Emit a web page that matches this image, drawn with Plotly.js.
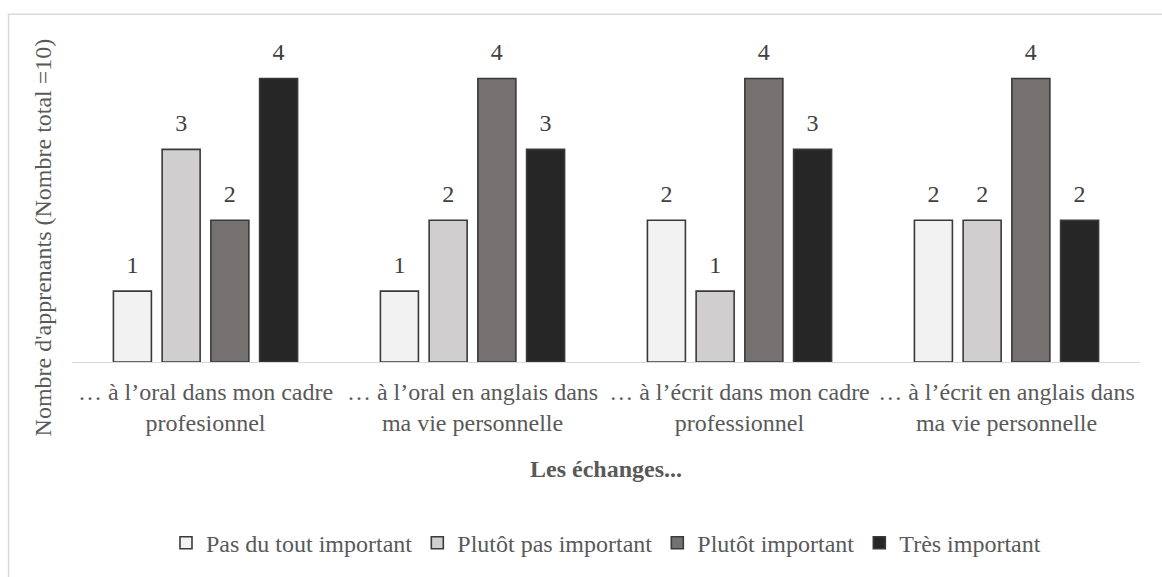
<!DOCTYPE html>
<html>
<head>
<meta charset="utf-8">
<script src="https://cdn.plot.ly/plotly-3.0.1.min.js"></script>
<style>
html,body{margin:0;padding:0;background:#fff;}
#chart{width:1162px;height:577px;}
</style>
</head>
<body>
<div id="chart"></div>
<script>
const categories = [
  "… à l’oral dans mon cadre<br>profesionnel",
  "… à l’oral en anglais dans<br>ma vie personnelle",
  "… à l’écrit dans mon cadre<br>professionnel",
  "… à l’écrit en anglais dans<br>ma vie personnelle"
];
const seriesNames = ["Pas du tout important", "Plutôt pas important", "Plutôt important", "Très important"];
const pasDuTout = [1, 1, 2, 2];
const plutotPas = [3, 2, 1, 2];
const plutotImportant = [2, 4, 4, 4];
const tresImportant = [4, 3, 3, 2];
const seriesValues = [pasDuTout, plutotPas, plutotImportant, tresImportant];
const colors = ["#F2F2F2", "#D0CECE", "#767171", "#262626"];

const FONT = "Liberation Serif, Times New Roman, serif";
const GAP = 0.27;

const barTraces = seriesValues.map((vals, i) => ({
  type: "bar",
  name: seriesNames[i],
  x: categories,
  y: vals,
  marker: {color: colors[i], line: {color: "#3A3A3A", width: 1.6}},
  hoverinfo: "none"
}));

const labelTraces = seriesValues.map((vals, i) => ({
  type: "scatter",
  mode: "markers+text",
  x: categories,
  y: vals,
  text: vals.map(String),
  textposition: "top center",
  textfont: {family: FONT, size: 24, color: "#404040"},
  marker: {size: 18, opacity: 0},
  cliponaxis: false,
  showlegend: false,
  hoverinfo: "none"
}));

const layout = {
  width: 1162,
  height: 577,
  margin: {l: 72, r: 22, t: 43, b: 212},
  paper_bgcolor: "#FFFFFF",
  plot_bgcolor: "#FFFFFF",
  barmode: "group",
  bargap: GAP,
  bargroupgap: 0.22,
  scattermode: "group",
  scattergap: GAP,
  font: {family: FONT, size: 24, color: "#595959"},
  xaxis: {
    showline: true,
    linecolor: "#D9D9D9",
    linewidth: 1.2,
    ticks: "",
    ticklabelstandoff: 8,
    showgrid: false,
    tickfont: {family: FONT, size: 24, color: "#595959"}
  },
  yaxis: {
    range: [0, 4.5],
    showticklabels: false,
    showgrid: false,
    zeroline: false,
    showline: false,
    ticks: ""
  },
  showlegend: true,
  legend: {
    orientation: "h",
    x: 0.5, xanchor: "center",
    y: -0.568, yanchor: "middle",
    font: {family: FONT, size: 24, color: "#595959"},
    itemwidth: 30,
    traceorder: "normal"
  },
  annotations: [
    {
      text: "Nombre d'apprenants (Nombre total =10)",
      textangle: -90,
      xref: "paper", yref: "paper",
      x: -0.027, y: 0.391,
      xanchor: "center", yanchor: "middle",
      showarrow: false,
      font: {family: FONT, size: 24, color: "#595959"}
    },
    {
      text: "<b>Les échanges...</b>",
      xref: "paper", yref: "paper",
      x: 0.5, y: -0.335,
      xanchor: "center", yanchor: "middle",
      showarrow: false,
      font: {family: FONT, size: 24, color: "#595959"}
    }
  ],
  shapes: [
    {
      type: "rect",
      xref: "paper", yref: "paper",
      x0: -0.0594, x1: 1.03, y0: -0.70, y1: 1.09,
      line: {color: "#D9D9D9", width: 1.5},
      fillcolor: "rgba(0,0,0,0)",
      layer: "below"
    }
  ]
};

Plotly.newPlot("chart", barTraces.concat(labelTraces), layout, {displayModeBar: false, staticPlot: true});
</script>
</body>
</html>
